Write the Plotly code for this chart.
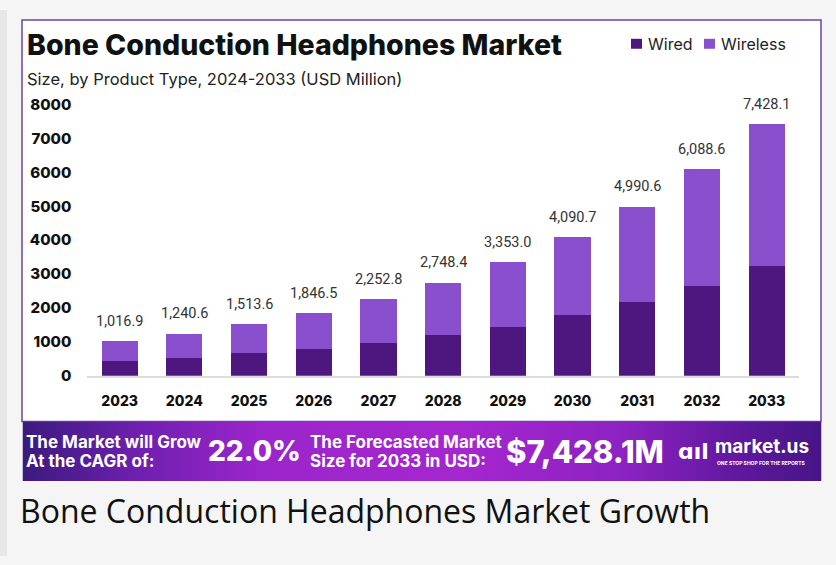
import plotly.graph_objects as go

# ---------------- data ----------------
years = ["2023", "2024", "2025", "2026", "2027", "2028", "2029", "2030", "2031", "2032", "2033"]
wired = [420, 519, 655, 792, 958, 1193, 1447, 1779, 2170, 2649, 3245]
wireless = [596.9, 721.6, 858.6, 1054.5, 1294.8, 1555.4, 1906.0, 2311.7, 2820.6, 3439.6, 4183.1]
totals = [1016.9, 1240.6, 1513.6, 1846.5, 2252.8, 2748.4, 3353.0, 4090.7, 4990.6, 6088.6, 7428.1]
total_labels = ["1,016.9", "1,240.6", "1,513.6", "1,846.5", "2,252.8", "2,748.4",
                "3,353.0", "4,090.7", "4,990.6", "6,088.6", "7,428.1"]
y_ticks = [0, 1000, 2000, 3000, 4000, 5000, 6000, 7000, 8000]
series_names = ["Wired", "Wireless"]

title = "Bone Conduction Headphones Market"
subtitle = "Size, by Product Type, 2024-2033 (USD Million)"
caption = "Bone Conduction Headphones Market Growth"
cagr_text = "22.0%"
forecast_text = "$7,428.1M"

# ---------------- style ----------------
W, H = 836, 565
C_WIRED = "#4e167f"
C_WIRELESS = "#8a4fcc"
HEAD_FONT = "Inter, Roboto, sans-serif"
# the page photo shows the figure offset/compressed vertically; compensate
Y_OFF, Y_SCALE = 8.0, 0.9725


def px(x):
    return x / W


def py(y):
    return 1 - ((y - Y_OFF) / Y_SCALE) / H


fig = go.Figure()

fig.add_trace(go.Bar(x=years, y=wired, name=series_names[0], marker_color=C_WIRED,
                     marker_line_width=0, showlegend=False))
fig.add_trace(go.Bar(x=years, y=wireless, name=series_names[1], marker_color=C_WIRELESS,
                     marker_line_width=0, showlegend=False))

# banner gradient (decorative) on an auxiliary axis pair
fig.add_trace(go.Scatter(
    x=[0, 1, 1, 0, 0], y=[0, 0, 1, 1, 0], xaxis="x2", yaxis="y2",
    mode="lines", line=dict(width=0), fill="toself",
    fillgradient=dict(type="horizontal",
                      colorscale=[[0, "#3b1a7e"], [0.15, "#7020b0"], [0.3, "#9c25cc"],
                                  [0.55, "#a526cf"], [0.75, "#8d22c2"], [0.9, "#5e189c"],
                                  [1, "#461586"]]),
    hoverinfo="skip", showlegend=False))

annotations = []

# total labels above each stack (x given as category index)
for i, (tot, lab) in enumerate(zip(totals, total_labels)):
    annotations.append(dict(x=i, y=tot, xref="x", yref="y", text=lab, showarrow=False,
                            xanchor="center", yanchor="middle", yshift=20,
                            font=dict(family="Roboto, sans-serif", size=14.5, color="#333333")))

# title / subtitle
annotations.append(dict(x=px(25), y=py(43), xref="paper", yref="paper", text=title,
                        showarrow=False, xanchor="left", yanchor="middle",
                        font=dict(family=HEAD_FONT, size=28.5, weight=800, color="#111111")))
annotations.append(dict(x=px(25), y=py(77), xref="paper", yref="paper", text=subtitle,
                        showarrow=False, xanchor="left", yanchor="middle",
                        font=dict(family=HEAD_FONT, size=16.5, color="#222222")))

# legend (manual)
annotations.append(dict(x=px(646), y=py(42), xref="paper", yref="paper", text=series_names[0],
                        showarrow=False, xanchor="left", yanchor="middle",
                        font=dict(family=HEAD_FONT, size=16, color="#222222")))
annotations.append(dict(x=px(719), y=py(42), xref="paper", yref="paper", text=series_names[1],
                        showarrow=False, xanchor="left", yanchor="middle",
                        font=dict(family=HEAD_FONT, size=16, color="#222222")))

# banner texts
BANNER_SMALL = dict(family=HEAD_FONT, size=17, weight=700, color="#ffffff")
BANNER_BIG = dict(family=HEAD_FONT, size=28, weight=800, color="#ffffff")
banner = [
    dict(x=px(24), y=py(443), text="The Market will Grow", font=BANNER_SMALL),
    dict(x=px(24), y=py(462), text="At the CAGR of:", font=BANNER_SMALL),
    dict(x=px(206), y=py(452), text=cagr_text, font=BANNER_BIG),
    dict(x=px(308), y=py(443), text="The Forecasted Market", font=BANNER_SMALL),
    dict(x=px(308), y=py(462), text="Size for 2033 in USD:", font=BANNER_SMALL),
    dict(x=px(504), y=py(452), text=forecast_text, font=dict(BANNER_BIG, size=31)),
    dict(x=px(676), y=py(452), text="ɑıl", font=dict(family="DejaVu Sans", size=22, weight=700, color="#ffffff")),
    dict(x=px(713), y=py(447), text="market.us", font=dict(family=HEAD_FONT, size=19, weight=700, color="#ffffff")),
    dict(x=px(715), y=py(464), text="ONE STOP SHOP FOR THE REPORTS", font=dict(family=HEAD_FONT, size=5, weight=700, color="#ffffff")),
]
for a in banner:
    a.update(xref="paper", yref="paper", showarrow=False, xanchor="left", yanchor="middle")
annotations += banner

# caption
annotations.append(dict(x=px(18), y=py(512), xref="paper", yref="paper", text=caption,
                        showarrow=False, xanchor="left", yanchor="middle",
                        font=dict(family="Open Sans, sans-serif", size=32, color="#111111")))

shapes = [
    dict(type="rect", xref="paper", yref="paper", x0=0, x1=px(7), y0=0, y1=1,
         fillcolor="#e7e7e7", line=dict(width=0), layer="below"),
    dict(type="rect", xref="paper", yref="paper", x0=px(22), x1=px(821), y0=py(422), y1=py(18),
         fillcolor="#ffffff", line=dict(color="#6e449c", width=1.5), layer="below"),
    dict(type="rect", xref="paper", yref="paper", x0=px(631), x1=px(642), y0=py(47), y1=py(37),
         fillcolor=C_WIRED, line=dict(width=0)),
    dict(type="rect", xref="paper", yref="paper", x0=px(704), x1=px(715), y0=py(47), y1=py(37),
         fillcolor=C_WIRELESS, line=dict(width=0)),
]

fig.update_layout(
    width=W, height=H,
    margin=dict(l=0, r=0, t=0, b=0),
    paper_bgcolor="#f5f5f5",
    plot_bgcolor="rgba(0,0,0,0)",
    barmode="stack",
    bargap=0.44,
    showlegend=False,
    xaxis=dict(domain=[px(87.3), px(799)], type="category", range=[-0.5, 10.5],
               showline=True, linecolor="#dcdcdc", linewidth=1.5, ticks="",
               showgrid=False, ticklabelstandoff=12,
               tickfont=dict(family=HEAD_FONT, size=14, weight=800, color="#111111")),
    yaxis=dict(domain=[py(376), py(103.3)], range=[0, 8000], tickvals=y_ticks,
               showgrid=False, zeroline=False, showline=False, ticks="",
               ticklabelstandoff=15,
               tickfont=dict(family=HEAD_FONT, size=15, weight=800, color="#111111")),
    xaxis2=dict(domain=[px(22.5), px(821.5)], range=[0, 1], visible=False, fixedrange=True,
                anchor="y2"),
    yaxis2=dict(domain=[py(482), py(422)], range=[0, 1], visible=False, fixedrange=True,
                anchor="x2"),
    annotations=annotations,
    shapes=shapes,
)

fig.write_html("out.html", config={"displayModeBar": False},
               post_script="document.body.style.margin='0';document.body.style.background='#efefef';")
